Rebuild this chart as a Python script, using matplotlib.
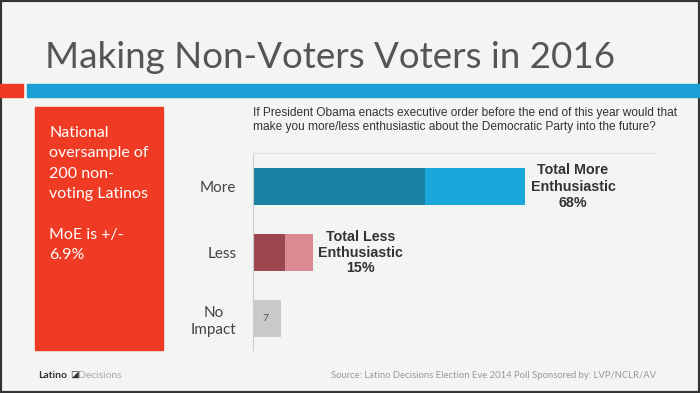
import matplotlib.pyplot as plt
from matplotlib.patches import Rectangle

# Data
categories = ['More', 'Less', 'No\nImpact']
strong = [43, 8, 7]       # dark segment
somewhat = [25, 7, 0]     # light segment
totals = [68, 15, 7]
dark_colors = ['#1b82a3', '#9c4650', '#c9c9c9']
light_colors = ['#1ba6dc', '#da8a92', '#c9c9c9']

bg = '#f3f5f2'
fig = plt.figure(figsize=(7, 3.93), dpi=100, facecolor=bg)

# frame and header decorations
fig.patches.append(Rectangle((0, 0), 1, 1, transform=fig.transFigure,
                             fill=False, edgecolor='#333333', linewidth=3))
fig.patches.append(Rectangle((0, 1 - 97 / 393), 23 / 700, 13 / 393,
                             transform=fig.transFigure, color='#ef3b24'))
fig.patches.append(Rectangle((27 / 700, 1 - 97 / 393), 673 / 700, 13 / 393,
                             transform=fig.transFigure, color='#1a9fd4'))
fig.patches.append(Rectangle((35 / 700, 1 - 350 / 393), 128 / 700, 243 / 393,
                             transform=fig.transFigure, color='#f03b24'))

fig.text(45 / 700, 1 - 58 / 393, 'Making Non-Voters Voters in 2016',
         fontsize=26.5, color='#555555', family='Lato', va='center')

fig.text(49 / 700, 1 - 126 / 393,
         'National\noversample of\n200 non-\nvoting Latinos',
         fontsize=11.5, color='white', family='Lato', va='top', linespacing=1.58)
fig.text(49 / 700, 1 - 228 / 393, 'MoE is +/-\n6.9%',
         fontsize=11.5, color='white', family='Lato', va='top', linespacing=1.58)

fig.text(253 / 700, 1 - 107 / 393,
         'If President Obama enacts executive order before the end of this year would that\n'
         'make you more/less enthusiastic about the Democratic Party into the future?',
         fontsize=8.6, color='#333333', family='Liberation Sans', va='top', linespacing=1.25)

# chart axes
ax = fig.add_axes([253 / 700, 43 / 393, 402 / 700, 197 / 393])
ax.set_facecolor(bg)
ypos = list(range(len(categories)))
ax.barh(ypos, strong, height=0.56, color=dark_colors)
ax.barh(ypos, somewhat, left=strong, height=0.56, color=light_colors)
ax.set_xlim(0, 402 / 4)
ax.set_ylim(2.477, -0.508)
ax.set_yticks(ypos)
ax.set_yticklabels(categories, family='Lato', fontsize=11, color='#444444',
                   linespacing=1.3, multialignment='center')
ax.tick_params(axis='y', length=0, pad=12)
ax.set_xticks([])
for s in ['right', 'bottom']:
    ax.spines[s].set_visible(False)
ax.spines['left'].set_color('#cccccc')
ax.spines['top'].set_color('#e0e2df')

ax.text(totals[0] + 12, 0, 'Total More\nEnthusiastic\n' + str(totals[0]) + '%',
        ha='center', va='center', fontsize=10.3, fontweight='bold',
        family='Liberation Sans', color='#333333', linespacing=1.2)
ax.text(totals[1] + 11.8, 1, 'Total Less\nEnthusiastic\n' + str(totals[1]) + '%',
        ha='center', va='center', fontsize=10.3, fontweight='bold',
        family='Liberation Sans', color='#333333', linespacing=1.15)
ax.text(totals[2] / 2 - 0.3, 2, str(totals[2]), ha='center', va='center',
        fontsize=7.5, color='#555555', family='Lato')

# footer
fig.text(38 / 700, 1 - 375 / 393, 'Latino', fontsize=7.5, fontweight='bold',
         color='#333333', family='Lato', va='center')
fig.text(70 / 700, 1 - 375 / 393, '\u25ea', fontsize=6.5, color='#333333',
         family='DejaVu Sans', va='center')
fig.text(78 / 700, 1 - 375 / 393, 'Decisions', fontsize=7.5,
         color='#aaaaaa', family='Lato', va='center')
fig.text(656 / 700, 1 - 375 / 393,
         'Source: Latino Decisions Election Eve 2014 Poll Sponsored by: LVP/NCLR/AV',
         fontsize=6.8, color='#999999', family='Lato', va='center', ha='right')

fig.savefig('out.png', dpi=100, facecolor=bg)
